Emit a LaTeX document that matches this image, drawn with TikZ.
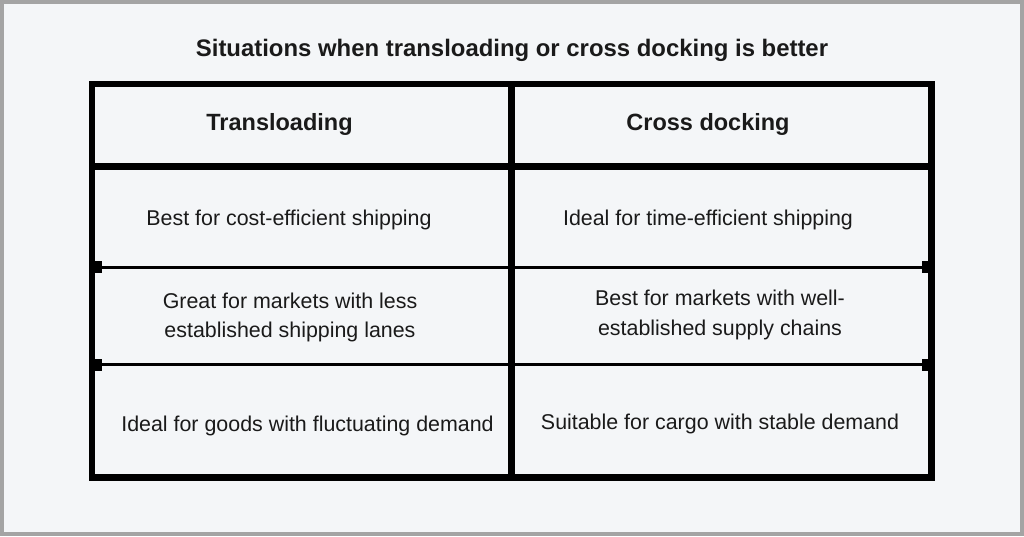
\documentclass[tikz,border=0pt]{standalone}
\usepackage{fontspec}
\setmainfont{Liberation Sans}
\definecolor{bgc}{HTML}{F4F6F8}
\definecolor{framec}{HTML}{A4A4A4}
\definecolor{txt}{HTML}{1A1A1A}
\tikzset{
  body/.style={anchor=base, inner sep=0pt, text=txt, font=\fontsize{21.4}{26}\selectfont},
  headtxt/.style={anchor=base, inner sep=0pt, text=txt, font=\fontsize{23.5}{28}\selectfont\bfseries},
  titletxt/.style={anchor=base, inner sep=0pt, text=txt, font=\fontsize{23.9}{28}\selectfont\bfseries},
  thick rule/.style={line width=6.5pt, black},
  thin rule/.style={line width=3pt, black},
  tab/.style={fill=black}
}
\begin{document}
\begin{tikzpicture}[x=1pt,y=-1pt]
\useasboundingbox (0,0) rectangle (1024,536);
\fill[framec] (0,0) rectangle (1024,536);
\fill[bgc] (4,4) rectangle (1020,532);
% title
\node[titletxt] (title) at (512,56) {Situations when transloading or cross docking is better};
% grid coordinates
\coordinate (tl) at (92,84);
\coordinate (br) at (931.5,477.5);
\coordinate (hl) at (92,166.5);
\coordinate (hr) at (931.5,166.5);
\coordinate (vt) at (511.5,84);
\coordinate (vb) at (511.5,477.5);
\coordinate (r1l) at (92,267);
\coordinate (r1r) at (931.5,267);
\coordinate (r2l) at (92,364.5);
\coordinate (r2r) at (931.5,364.5);
% thin row lines with end tabs
\draw[thin rule] (r1l) -- (r1r);
\draw[thin rule] (r2l) -- (r2r);
\fill[tab] (89,261) rectangle (102,273);
\fill[tab] (922,261) rectangle (935,273);
\fill[tab] (89,358.5) rectangle (102,370.5);
\fill[tab] (922,358.5) rectangle (935,370.5);
% thick lines
\draw[thick rule] (hl) -- (hr);
\draw[thick rule] (vt) -- (vb);
\draw[thick rule, line join=miter] (tl) rectangle (br);
% headers
\node[headtxt] (h1) at (279.5,130) {Transloading};
\node[headtxt] (h2) at (708,130) {Cross docking};
% row 1
\node[body] (a1) at (289,225) {Best for cost-efficient shipping};
\node[body] (b1) at (708,225) {Ideal for time-efficient shipping};
% row 2
\node[body] (a2a) at (290,308) {Great for markets with less};
\node[body] (a2b) at (290,337) {established shipping lanes};
\node[body] (b2a) at (720,305) {Best for markets with well-};
\node[body] (b2b) at (720,335.5) {established supply chains};
% row 3
\node[body] (a3) at (307.5,431.5) {Ideal for goods with fluctuating demand};
\node[body] (b3) at (720,429) {Suitable for cargo with stable demand};
\end{tikzpicture}
\end{document}
